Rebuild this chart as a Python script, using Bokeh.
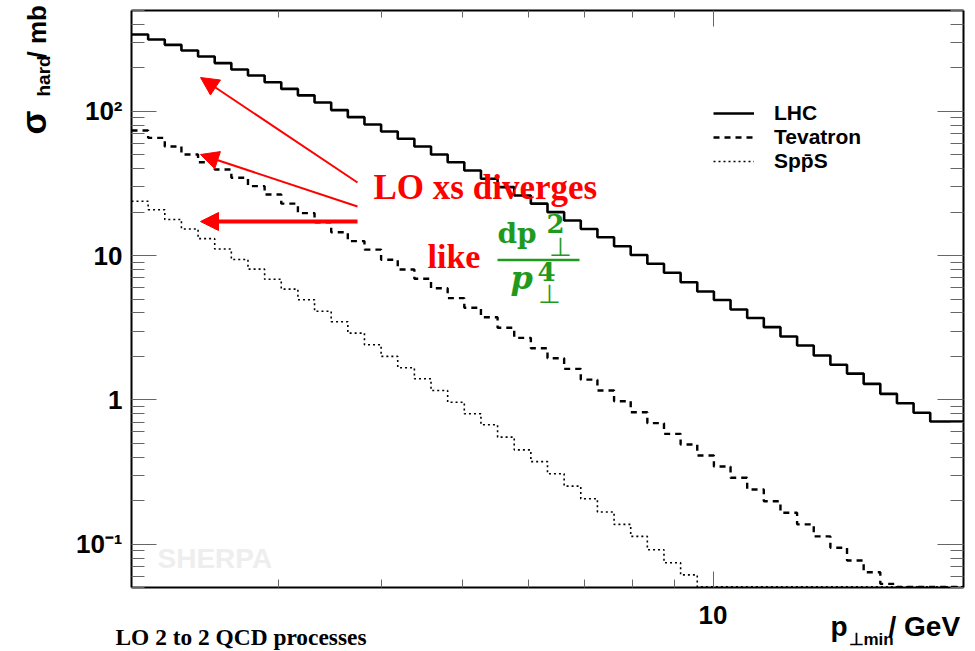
import numpy as np
from bokeh.plotting import figure
from bokeh.models import (LogAxis, FixedTicker, Legend, LegendItem, Label, Arrow,
                          NormalHead, Range1d)
from bokeh.embed import file_html
from bokeh.resources import INLINE

# ---------------- data ----------------
x_lo, x_hi = 2.0, 20.0
y_lo, y_hi = 0.05, 500.0
n_bins = 50
bin_edges = np.logspace(np.log10(x_lo), np.log10(x_hi), n_bins + 1)

lhc = [341, 315, 289, 264, 240, 216, 195, 177, 159, 143,
       129, 115, 102, 91.1, 81.0, 72.5, 64.5, 57.0, 50.2, 44.4,
       38.9, 34.1, 29.8, 26.1, 22.9, 20.0, 17.5, 15.3, 13.4, 11.6,
       10.1, 8.77, 7.60, 6.54, 5.64, 4.92, 4.23, 3.69, 3.19, 2.75,
       2.38, 2.03, 1.75, 1.52, 1.29, 1.10, 0.947, 0.813, 0.708, 0.708]
tevatron = [73.6, 65.5, 57.0, 50.2, 44.4, 39.5, 34.6, 30.3, 26.5, 22.9,
            19.7, 17.0, 14.5, 12.6, 11.0, 9.35, 8.01, 6.90, 5.94, 5.07,
            4.35, 3.74, 3.16, 2.69, 2.28, 1.94, 1.64, 1.38, 1.16, 0.978,
            0.821, 0.689, 0.581, 0.490, 0.411, 0.345, 0.288, 0.239, 0.198, 0.165,
            0.137, 0.113, 0.0943, 0.0770, 0.0638, 0.0530, 0.044, 0.037, 0.031, 0.026]
sppbars = [23.8, 20.8, 17.8, 15.3, 13.1, 11.1, 9.39, 8.05, 6.86, 5.85,
           4.94, 4.11, 3.48, 2.90, 2.41, 2.00, 1.67, 1.40, 1.16, 0.963,
           0.800, 0.671, 0.551, 0.450, 0.373, 0.307, 0.252, 0.206, 0.167, 0.137,
           0.113, 0.0914, 0.0742, 0.0612, 0.049, 0.041, 0.034, 0.028, 0.023, 0.019,
           0.016, 0.013, 0.011, 0.009, 0.0075, 0.0062, 0.0051, 0.0042, 0.0035, 0.0029]

series_names = ["LHC", "Tevatron", "Spp\u0304S"]

x_major = [10]
x_minor = [2, 3, 4, 5, 6, 7, 8, 9, 20]
y_major = [0.1, 1, 10, 100]
y_minor = [0.05, 0.06, 0.07, 0.08, 0.09,
           0.2, 0.3, 0.4, 0.5, 0.6, 0.7, 0.8, 0.9,
           2, 3, 4, 5, 6, 7, 8, 9,
           20, 30, 40, 50, 60, 70, 80, 90,
           200, 300, 400, 500]
y_tick_labels = {0.1: "10\u207b\u00b9", 1: "1", 10: "10", 100: "10\u00b2"}
x_tick_labels = {10: "10"}

# ---------------- figure ----------------
FL, FB = 131, 587  # frame left / bottom in canvas pixels (for annotations)

p = figure(x_axis_type="log", y_axis_type="log",
           x_range=Range1d(x_lo, x_hi), y_range=Range1d(y_lo, y_hi),
           frame_width=832, frame_height=577,
           min_border_left=131, min_border_right=12, min_border_top=10, min_border_bottom=64,
           output_backend="svg", toolbar_location=None,
           background_fill_color="white", border_fill_color="white",
           outline_line_color=None)
p.grid.visible = False


def style_axis(ax, major_in, minor_in, labels=True):
    ax.axis_line_color = "black"
    ax.axis_line_width = 2
    ax.major_tick_line_color = "#666666"
    ax.minor_tick_line_color = "#666666"
    ax.major_tick_line_width = 1
    ax.minor_tick_line_width = 1
    ax.major_tick_in = major_in
    ax.major_tick_out = 0
    ax.minor_tick_in = minor_in
    ax.minor_tick_out = 0
    if not labels:
        ax.major_label_text_font_size = "1px"
        ax.major_label_text_alpha = 0
        ax.major_label_standoff = 0


xt = FixedTicker(ticks=x_major, minor_ticks=x_minor)
yt = FixedTicker(ticks=y_major, minor_ticks=y_minor)

xb = p.xaxis[0]
xb.ticker = xt
style_axis(xb, 16, 8)
xb.major_label_overrides = x_tick_labels
xb.major_label_text_font = "Liberation Sans"
xb.major_label_text_font_style = "bold"
xb.major_label_text_font_size = "26px"
xb.major_label_text_color = "black"
xb.major_label_standoff = 18

yl = p.yaxis[0]
yl.ticker = yt
style_axis(yl, 25, 13)
yl.major_label_overrides = y_tick_labels
yl.major_label_text_font = "Liberation Sans"
yl.major_label_text_font_style = "bold"
yl.major_label_text_font_size = "26px"
yl.major_label_text_color = "black"
yl.major_label_standoff = 9

xtop = LogAxis(ticker=FixedTicker(ticks=x_major, minor_ticks=x_minor))
style_axis(xtop, 16, 7, labels=False)
p.add_layout(xtop, "above")
yr = LogAxis(ticker=FixedTicker(ticks=y_major, minor_ticks=y_minor))
style_axis(yr, 26, 13, labels=False)
p.add_layout(yr, "right")

# ---------------- histograms ----------------
def steps(vals):
    v = np.maximum(np.asarray(vals, dtype=float), y_lo * 1.01)
    return list(bin_edges), list(v) + [v[-1]]

xs, ys = steps(lhc)
r1 = p.step(xs, ys, mode="after", line_color="black", line_width=2.6)
xs, ys = steps(tevatron)
r2 = p.step(xs, ys, mode="after", line_color="black", line_width=2.4, line_dash="6 5")
xs, ys = steps(sppbars)
r3 = p.step(xs, ys, mode="after", line_color="black", line_width=1.6, line_dash="2 3")

legend = Legend(items=[LegendItem(label=series_names[0], renderers=[r1]),
                       LegendItem(label=series_names[1], renderers=[r2]),
                       LegendItem(label=series_names[2], renderers=[r3])],
                location=(582, 414), glyph_width=41, glyph_height=24, label_height=24,
                label_standoff=20, padding=0, spacing=0, margin=0,
                border_line_color=None, background_fill_alpha=0,
                label_text_font="Liberation Sans", label_text_font_style="bold",
                label_text_font_size="21px", label_text_color="black")
p.add_layout(legend)

# ---------------- annotations ----------------
BASE = 0.35  # baseline correction (fraction of font size)


def lab(text, px, py, size, font="Liberation Sans", style="bold", color="black",
        rotated=False, align="left", place="center"):
    s = float(size.replace("px", ""))
    if rotated:
        x, y, angle = px - BASE * s, py, np.pi / 2
    else:
        x, y, angle = px, py - BASE * s, 0.0
    p.add_layout(Label(x=x, y=y, x_units="canvas", y_units="canvas",
                       text=text, text_font=font, text_font_style=style,
                       text_font_size=size, text_color=color, angle=angle,
                       text_align=align, text_baseline="alphabetic"), place)


def arrow(px0, py0, px1, py1, width, head=True, color="red", size=18):
    end = NormalHead(size=size, fill_color=color, line_color=color) if head else None
    p.add_layout(Arrow(x_start=px0 - FL, y_start=FB - py0, x_end=px1 - FL, y_end=FB - py1,
                       start_units="screen", end_units="screen", end=end,
                       line_color=color, line_width=width))


# watermark
lab("SHERPA", 157, 568, "28px", color="#eeeeee")

red = "#ff0000"
green = "#1f9a1f"
arrow(357, 182, 200, 77, 2)
arrow(357, 206, 200, 154, 2)
arrow(357, 221, 200, 221, 4)
lab("LO xs diverges", 373, 199, "35px", font="Liberation Serif", color=red)
lab("like", 427, 268, "34px", font="Liberation Serif", color=red)
# d p_perp^2 / p_perp^4
lab("dp", 497, 243, "28px", font="DejaVu Serif", color=green)
lab("2", 546, 232, "26px", font="DejaVu Serif", color=green)
lab("\u22a5", 560, 256, "26px", font="DejaVu Sans", style="normal", color=green, align="center")
arrow(497, 259.5, 579, 259.5, 2.5, head=False, color=green)
lab("p", 510, 289, "32px", font="DejaVu Serif", style="bold italic", color=green)
lab("4", 537, 280, "26px", font="DejaVu Serif", color=green)
lab("\u22a5", 549, 303, "26px", font="DejaVu Sans", style="normal", color=green, align="center")

# axis titles: outside the frame -> held in side panels that only extend the
# canvas to the right / bottom (positions are absolute canvas pixels)
lab("\u03c3", 45, 134, "35px", rotated=True, place="right")
lab("hard", 50, 96, "19px", rotated=True, place="right")
lab("/ mb", 46, 58, "26px", rotated=True, place="right")

lab("p", 830, 636, "28px", place="below")
lab("\u22a5min", 848, 645, "17px", place="below")
lab("/ GeV", 888, 636, "28px", place="below")

lab("LO 2 to 2 QCD processes", 115, 645, "23.4px", font="Liberation Serif", place="below")

open("out.html", "w").write(file_html(p, INLINE))
